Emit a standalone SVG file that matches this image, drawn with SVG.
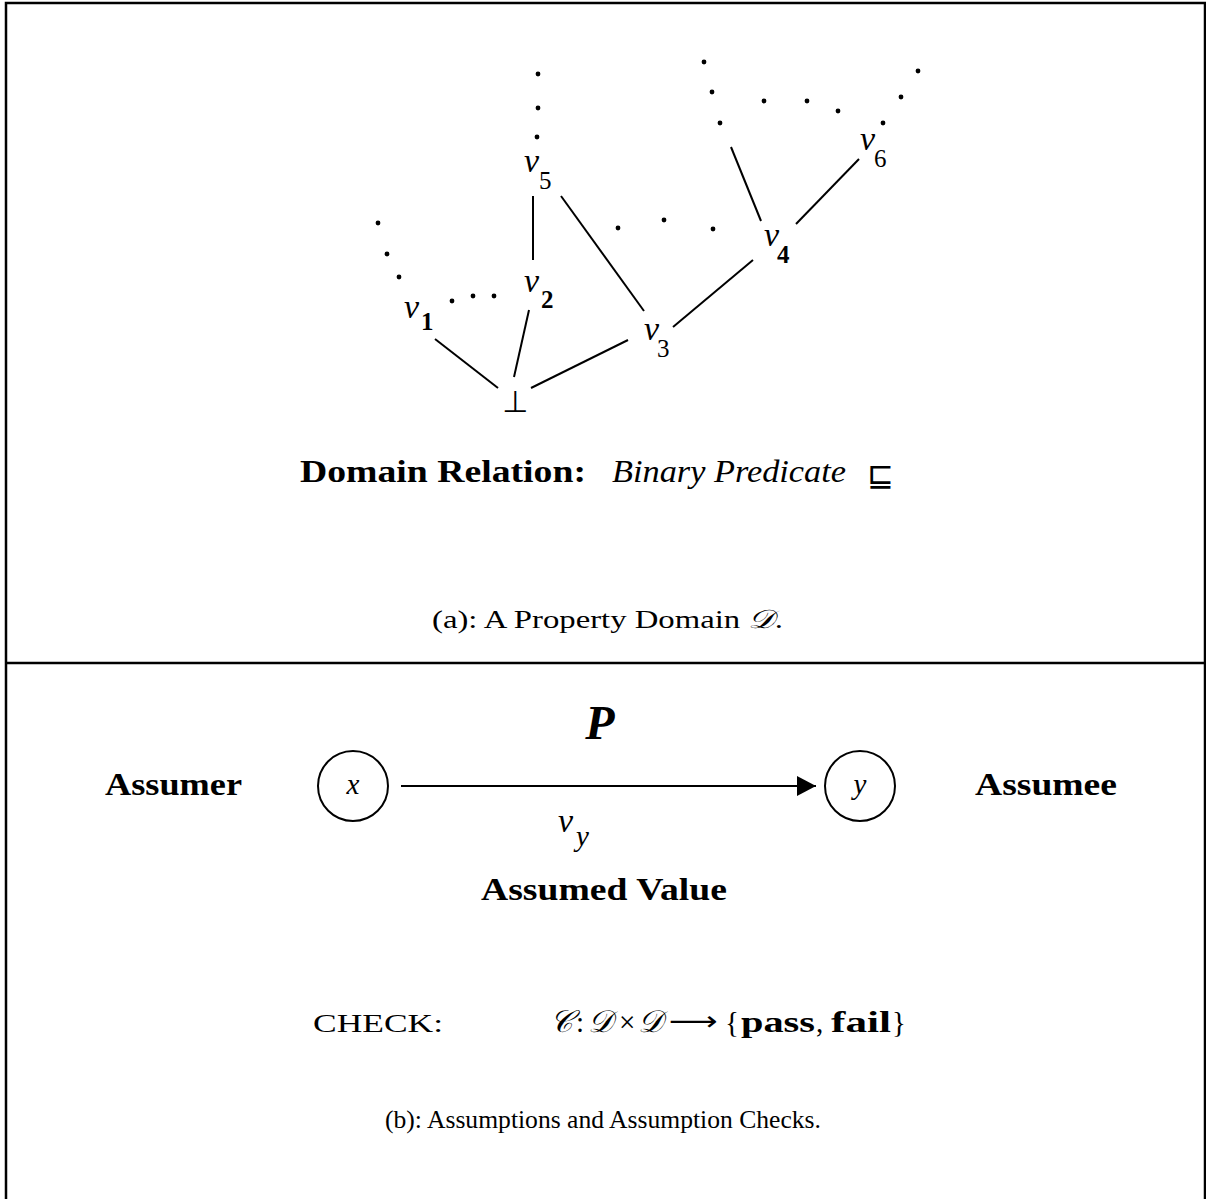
<svg xmlns="http://www.w3.org/2000/svg" width="1206" height="1199" viewBox="0 0 1206 1199">
<style>
.frame{stroke:#000;stroke-width:2.5;fill:none}
.edge{stroke:#000;stroke-width:2;fill:none}
.dot{fill:#000}
.vi{font-family:"Liberation Serif","DejaVu Serif",serif;font-style:italic;font-size:34px;fill:#000}
.sb{font-family:"Liberation Serif","DejaVu Serif",serif;font-weight:bold;font-size:25px;fill:#000}
.sr{font-family:"Liberation Serif","DejaVu Serif",serif;font-size:25px;fill:#000}
.bold{font-family:"Liberation Serif","DejaVu Serif",serif;font-weight:bold;font-size:31px;fill:#000}
.ital{font-family:"Liberation Serif","DejaVu Serif",serif;font-style:italic;font-size:31px;fill:#000}
.rm{font-family:"Liberation Serif","DejaVu Serif",serif;font-size:26px;fill:#000}
.fm{font-family:"Liberation Serif","DejaVu Serif",serif;font-size:29px;fill:#000}
.math{font-family:"DejaVu Sans",sans-serif;fill:#000}
.circ{stroke:#000;stroke-width:2;fill:none}
</style>
<defs>
<marker id="arrow" markerWidth="20" markerHeight="20" refX="19" refY="10" orient="auto" markerUnits="userSpaceOnUse">
<path d="M0,0 L19,10 L0,20 Z" fill="#000"/>
</marker>
</defs>
<rect width="1206" height="1199" fill="#fff"/>
<g id="frame">
<path class="frame" d="M6,1199 V3 H1205 V1199"/>
<path class="frame" d="M6,663 H1205"/>
</g>
<g id="connectors">
<line class="edge" x1="533" y1="196" x2="533" y2="260"/>
<line class="edge" x1="561" y1="196" x2="644" y2="311"/>
<line class="edge" x1="435" y1="339" x2="498" y2="388"/>
<line class="edge" x1="529" y1="310" x2="514" y2="377"/>
<line class="edge" x1="628" y1="340" x2="531" y2="388"/>
<line class="edge" x1="673" y1="327" x2="753" y2="260"/>
<line class="edge" x1="731" y1="147" x2="761" y2="221"/>
<line class="edge" x1="796" y1="224" x2="859" y2="159"/>
<line class="edge" x1="401" y1="786" x2="816" y2="786" marker-end="url(#arrow)"/>
</g>
<g id="dots">
<circle class="dot" cx="538" cy="74" r="2.4"/>
<circle class="dot" cx="538" cy="108" r="2.4"/>
<circle class="dot" cx="537" cy="137" r="2.4"/>
<circle class="dot" cx="378" cy="223" r="2.4"/>
<circle class="dot" cx="387" cy="254" r="2.4"/>
<circle class="dot" cx="399" cy="277" r="2.4"/>
<circle class="dot" cx="452" cy="301" r="2.4"/>
<circle class="dot" cx="473" cy="296" r="2.4"/>
<circle class="dot" cx="494" cy="296" r="2.4"/>
<circle class="dot" cx="618" cy="228" r="2.4"/>
<circle class="dot" cx="664" cy="220" r="2.4"/>
<circle class="dot" cx="713" cy="229" r="2.4"/>
<circle class="dot" cx="704" cy="62" r="2.4"/>
<circle class="dot" cx="712" cy="92" r="2.4"/>
<circle class="dot" cx="720" cy="123" r="2.4"/>
<circle class="dot" cx="764" cy="101" r="2.4"/>
<circle class="dot" cx="807" cy="101" r="2.4"/>
<circle class="dot" cx="838" cy="111" r="2.4"/>
<circle class="dot" cx="883" cy="123" r="2.4"/>
<circle class="dot" cx="901" cy="97" r="2.4"/>
<circle class="dot" cx="918" cy="71" r="2.4"/>
</g>
<g id="node-v1"><text class="vi" x="404" y="318">v</text><text class="sb" x="421" y="330">1</text></g>
<g id="node-v2"><text class="vi" x="524" y="292">v</text><text class="sb" x="541" y="308">2</text></g>
<g id="node-v3"><text class="vi" x="644" y="340">v</text><text class="sr" x="657" y="357">3</text></g>
<g id="node-v4"><text class="vi" x="764" y="246">v</text><text class="sb" x="777" y="263">4</text></g>
<g id="node-v5"><text class="vi" x="524" y="172">v</text><text class="sr" x="539" y="189">5</text></g>
<g id="node-v6"><text class="vi" x="860" y="150">v</text><text class="sr" x="874" y="167">6</text></g>
<g id="node-bottom"><text class="math" x="515" y="412" font-size="30" text-anchor="middle">⊥</text></g>
<g id="label-relation">
<text class="bold" x="300" y="482" textLength="286" lengthAdjust="spacingAndGlyphs">Domain Relation:</text>
<text class="ital" x="612" y="482" textLength="234" lengthAdjust="spacingAndGlyphs">Binary Predicate</text>
<text class="math" x="867" y="486" font-size="32">⊑</text>
</g>
<g id="caption-a"><text class="rm" x="432" y="628" textLength="351" lengthAdjust="spacingAndGlyphs">(a): A Property Domain <tspan class="math" font-style="italic">𝒟</tspan>.</text></g>
<g id="label-assumer"><text class="bold" x="105" y="795" textLength="137" lengthAdjust="spacingAndGlyphs">Assumer</text></g>
<g id="node-x"><circle class="circ" cx="353" cy="786" r="35"/><text class="ital" x="353" y="794" style="font-size:29px" text-anchor="middle">x</text></g>
<g id="node-y"><circle class="circ" cx="860" cy="786" r="35"/><text class="ital" x="860" y="794" style="font-size:29px" text-anchor="middle">y</text></g>
<g id="label-assumee"><text class="bold" x="975" y="795" textLength="142" lengthAdjust="spacingAndGlyphs">Assumee</text></g>
<g id="label-P"><text class="ital" x="600" y="739" style="font-size:48px;font-weight:bold" text-anchor="middle">P</text></g>
<g id="label-vy"><text class="vi" x="558" y="832">v</text><text class="ital" x="576" y="846" style="font-size:29px">y</text></g>
<g id="label-assumed"><text class="bold" x="481" y="900" textLength="246" lengthAdjust="spacingAndGlyphs">Assumed Value</text></g>
<g id="label-check">
<text class="rm" x="313" y="1032" textLength="130" lengthAdjust="spacingAndGlyphs">CHECK:</text>
<text class="math" x="550" y="1032" font-size="31" font-style="italic">𝒞</text>
<text class="fm" x="576" y="1032">:</text>
<text class="math" x="588" y="1032" font-size="31" font-style="italic">𝒟</text>
<text class="fm" x="619" y="1032">×</text>
<text class="math" x="638" y="1032" font-size="31" font-style="italic">𝒟</text>
<text class="math" x="669" y="1030" font-size="27" textLength="49" lengthAdjust="spacingAndGlyphs">⟶</text>
<text class="fm" x="725" y="1032">{</text>
<text class="fm" x="741" y="1032" font-weight="bold" textLength="74" lengthAdjust="spacingAndGlyphs">pass</text>
<text class="fm" x="816" y="1032">,</text>
<text class="fm" x="831" y="1032" font-weight="bold" textLength="60" lengthAdjust="spacingAndGlyphs">fail</text>
<text class="fm" x="892" y="1032">}</text>
</g>
<g id="caption-b"><text class="rm" x="385" y="1128" textLength="436" lengthAdjust="spacingAndGlyphs">(b): Assumptions and Assumption Checks.</text></g>
</svg>
